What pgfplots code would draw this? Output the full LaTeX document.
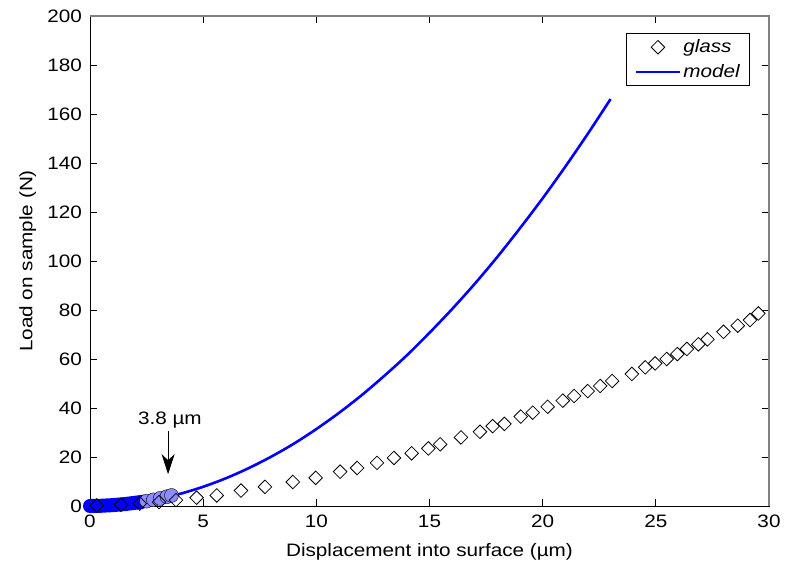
\documentclass[border=0pt]{standalone}
\usepackage{pgfplots}
\pgfplotsset{compat=1.18}
\usepackage{fontspec}
\setmainfont{Liberation Sans}[FakeStretch=1.15]
\usetikzlibrary{arrows.meta}
\begin{document}
\fontsize{18}{21}\selectfont
\begin{tikzpicture}
\begin{axis}[
  scale only axis,
  width=679pt, height=490pt,
  xmin=0, xmax=30, ymin=0, ymax=200,
  xtick={0,5,...,30}, ytick={0,20,...,200},
  /pgf/number format/assume math mode=true,
  tick label style={font=\fontsize{18}{21}\selectfont},
  label style={font=\fontsize{18}{21}\selectfont},
  xlabel={Displacement into surface (µm)},
  ylabel={Load on sample (N)},
  major tick length=7pt,
  tick style={black, line width=0.9pt},
  axis line style={line width=0.9pt},
  xticklabel style={yshift=-3pt},
  yticklabel style={xshift=-2pt},
  xlabel style={yshift=-3pt},
  ylabel style={yshift=-1pt},
  clip=false,
  legend style={at={(1,1)}, anchor=north east, xshift=-19pt, yshift=-17pt,
    draw=black, line width=0.7pt, font=\fontsize{18}{21}\selectfont\itshape,
    row sep=5pt, inner xsep=8pt, inner ysep=4pt},
  legend cell align=left,
  legend image code/.code={\draw[mark repeat=2,mark phase=2,#1] plot coordinates {(0pt,0pt) (22pt,0pt) (44pt,0pt)};},
]
\addplot[only marks, mark=*, mark size=7pt, mark options={draw=none, fill=blue!45!white}, forget plot] coordinates {
(2.5,2.0) (2.8,2.5) (3.1,3.1) (3.4,3.8) (3.6,4.3)
};
\addplot[only marks, mark=square, mark size=4.8pt, mark options={rotate=45, black, line width=0.8pt}] coordinates {
(0.3,0.2) (1.37,0.5) (2.2,1.0) (3.05,1.6) (3.8,2.4) (4.71,3.4) (5.6,4.3) (6.67,6.3)
(7.73,7.8) (8.96,9.8) (9.97,11.5) (11.05,14.0) (11.8,15.5) (12.68,17.6) (13.43,19.6)
(14.21,21.5) (14.95,23.5) (15.47,25.2) (16.39,28.0) (17.23,30.3) (17.79,32.6) (18.31,33.5)
(19.03,36.5) (19.56,38.1) (20.22,40.5) (20.89,43.0) (21.39,44.9) (21.99,46.9) (22.54,49.0)
(23.07,51.0) (23.94,53.9) (24.53,56.6) (24.97,58.2) (25.48,60.0) (25.95,62.0) (26.37,64.1)
(26.88,66.0) (27.28,68.0) (27.99,71.1) (28.62,73.6) (29.16,75.9) (29.53,78.6)
};
\addlegendentry{glass}
\addplot[blue, line width=14pt, line cap=round, forget plot] coordinates {
(0,0) (0.5,0.1) (1.0,0.35) (1.5,0.75) (2.0,1.3) (2.3,1.7)
};
\addplot[blue, line width=2.6pt, smooth] coordinates {
(0,0) (0.5,0.08) (1,0.31) (2,1.26) (3,2.83) (4,5.02) (5,7.85) (6,11.3) (7,15.4)
(8,20.1) (9,25.4) (10,31.4) (11,38.0) (12,45.2) (13,53.1) (14,61.5) (15,70.7)
(16,80.4) (17,90.7) (18,101.7) (19,113.4) (20,125.6) (21,138.5) (22,152.0) (23,166.1)
};
\addlegendentry{model}
\draw[gray, line width=1.2pt] (rel axis cs:0,1) -- (rel axis cs:1,1) -- (rel axis cs:1,0);
\draw[black, line width=0.8pt, -{Stealth[length=20pt, width=13pt, inset=6pt]}] (axis cs:3.45,30.5) -- (axis cs:3.45,13);
\node[font=\fontsize{18}{21}\selectfont] at (axis cs:3.53,35) {3.8 µm};
\end{axis}
\path (current axis.south west) ++(-90pt,-60pt);
\path (current axis.north east) ++(25pt,16pt);
\end{tikzpicture}
\end{document}
